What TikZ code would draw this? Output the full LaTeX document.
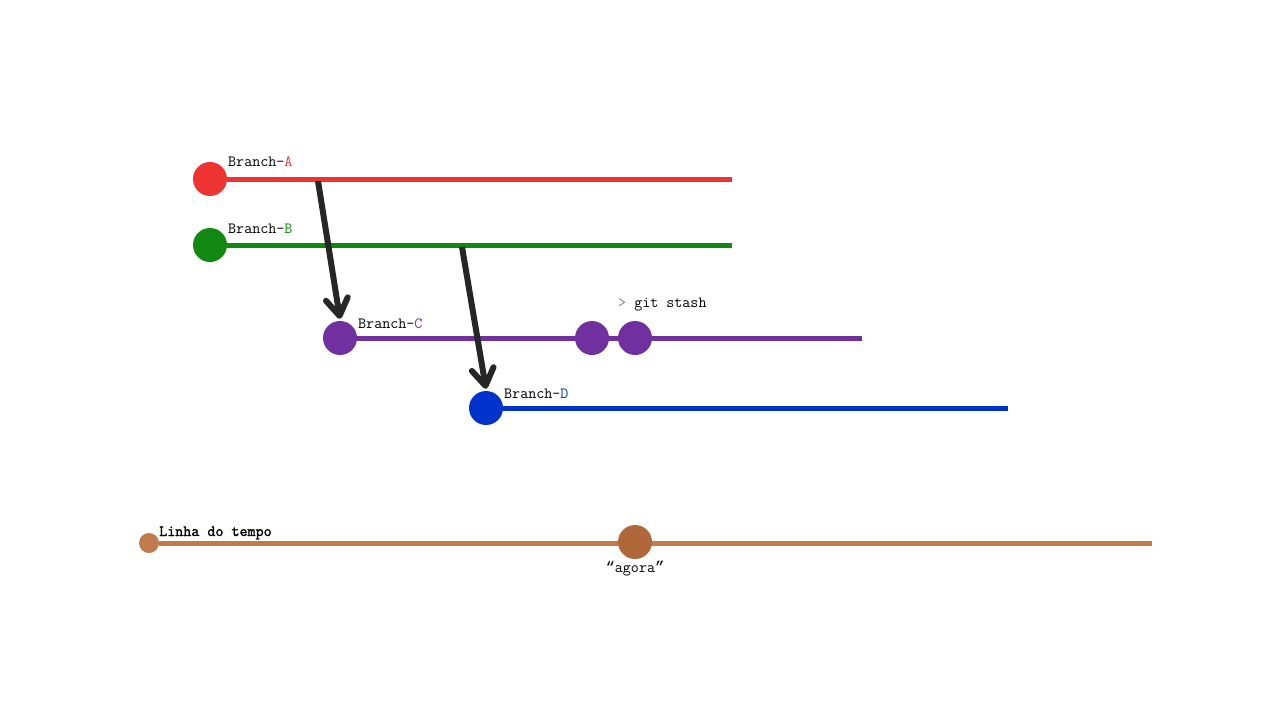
\documentclass[tikz,border=0pt]{standalone}
\usepackage{fontspec}
\newfontfamily\ttboldfont{Latin Modern Mono}[FakeBold=1.6]
\newfontfamily\quotefont{Liberation Mono}
\usepackage{tikz}
\usetikzlibrary{arrows.meta}
\definecolor{colA}{HTML}{EE3333}
\definecolor{colB}{HTML}{118811}
\definecolor{colC}{HTML}{7030A0}
\definecolor{colD}{HTML}{0033CC}
\definecolor{colT}{HTML}{C27A4C}
\definecolor{colNow}{HTML}{B0673A}
\definecolor{colArrow}{HTML}{262626}
\tikzset{
  commit/.style={circle,fill=#1,minimum size=34pt,inner sep=0pt},
  branch/.style={draw=#1,line width=5pt},
  tag/.style={anchor=base west,inner sep=0pt},
  merge/.style={draw=colArrow,line width=6pt,-{Straight Barb[length=17pt,width=22pt,line width=6pt,round]}}
}

\begin{document}
\begin{tikzpicture}[x=1pt,y=-1pt,font=\fontsize{15.6}{18}\selectfont\ttfamily]
    \useasboundingbox (0,0) rectangle (1280,720);
    % branches
    \node (branchA) at (210,179) [commit=colA] {};
    \coordinate (endA) at (732,179);
    \draw[branch=colA] (branchA.east) -- (endA);
    \node (labelA) at (228,166) [tag] {Branch-\textcolor{colA}{A}};

    \node (branchB) at (210,245) [commit=colB] {};
    \coordinate (endB) at (732,245);
    \draw[branch=colB] (branchB.east) -- (endB);
    \node (labelB) at (228,233) [tag] {Branch-\textcolor{colB}{B}};

    \node (branchC) at (340,338) [commit=colC] {};
    \coordinate (endC) at (862,338);
    \draw[branch=colC] (branchC.east) -- (endC);
    \node (labelC) at (358,328) [tag] {Branch-\textcolor{colC}{C}};
    \node (stash1) at (592,338) [commit=colC] {};
    \node (stash2) at (635,338) [commit=colC] {};
    \node (stashcmd) at (618,307) [tag] {\textcolor{gray}{>} git stash};

    \node (branchD) at (486,408) [commit=colD] {};
    \coordinate (endD) at (1008,408);
    \draw[branch=colD] (branchD.east) -- (endD);
    \node (labelD) at (504,398) [tag] {Branch-\textcolor{colD}{D}};

    % new branches
    \coordinate (forkA) at (318,181);
    \coordinate (forkB) at (462,247);
    \draw[merge] (forkA) -- ([yshift=2pt]branchC.north);
    \draw[merge] (forkB) -- ([yshift=2pt]branchD.north);

    % timeline
    \node (start) at (149,543) [commit=colT,minimum size=20pt] {};
    \coordinate (endT) at (1152,543);
    \draw[branch=colT] (start.east) -- (endT);
    \node (now) at (635,542) [commit=colNow] {};
    \node (labelT) at (159,536) [tag] {\ttboldfont Linha do tempo};
    \node (labelNow) at (now.south) [anchor=north,inner sep=2pt] {{\quotefont“}agora{\quotefont”}};
\end{tikzpicture}
\end{document}
